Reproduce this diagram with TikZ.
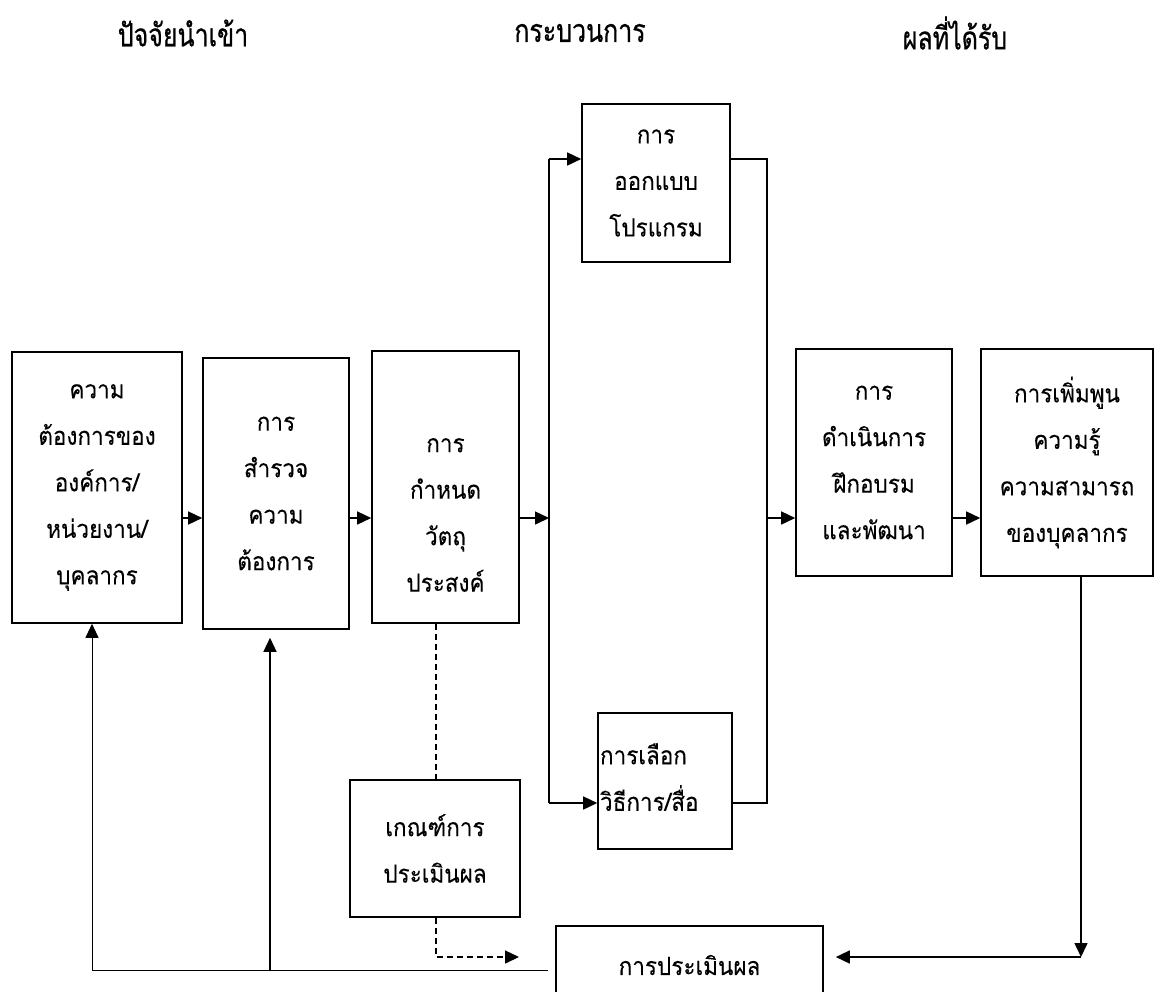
\documentclass[tikz,border=0pt]{standalone}
\usepackage{fontspec}
\newfontfamily\thai[Script=Thai,FakeStretch=0.9,FakeBold=0.15]{Loma}
\newfontfamily\thaihead[Script=Thai,FakeStretch=0.78,FakeBold=0.6]{Loma}
\usetikzlibrary{arrows.meta}
\begin{document}
\begin{tikzpicture}[x=1pt,y=-1pt,
  box/.style={draw,line width=1.6pt,inner sep=0pt,align=center,
    font=\thai\fontsize{25}{46.5}\selectfont},
  head/.style={font=\thaihead\fontsize{32}{34}\selectfont},
  ln/.style={line width=1.5pt},
  arr/.style={line width=1.5pt,-{Triangle[length=14pt,width=13pt]}},
  dsh/.style={line width=1.5pt,dash pattern=on 6pt off 4pt}]
\useasboundingbox (0,0) rectangle (1158,991);
\clip (0,0) rectangle (1158,991);
% headers
\node[head] (h1) at (183,33) {ปัจจัยนำเข้า};
\node[head] (h2) at (580,33) {กระบวนการ};
\node[head] (h3) at (955,33) {ผลที่ได้รับ};
% boxes
\node[box,minimum width=170,minimum height=271] (b1) at (97,487.5)
  {ความ\\ต้องการของ\\องค์การ/\\หน่วยงาน/\\บุคลากร};
\node[box,minimum width=146,minimum height=271] (b2) at (276,493.5)
  {การ\\สำรวจ\\ความ\\ต้องการ};
\node[box,minimum width=147,minimum height=272,
  label={[font=\thai\fontsize{25}{46.5}\selectfont,align=center,yshift=-28pt]center:{การ\\กำหนด\\วัตถุ\\ประสงค์}}] (b3) at (445.5,487) {};
\node[box,minimum width=148,minimum height=158] (b4) at (656,183)
  {การ\\ออกแบบ\\โปรแกรม};
\node[box,minimum width=134,minimum height=136,align=left,text width=130,
  inner xsep=2pt] (b5) at (665,781) {\raisebox{8pt}{การเลือก}\\\raisebox{8pt}{วิธีการ/สื่อ}};
\node[box,minimum width=156,minimum height=227] (b6) at (874,462.5)
  {การ\\ดำเนินการ\\ฝึกอบรม\\และพัฒนา};
\node[box,minimum width=172,minimum height=227] (b7) at (1067,462.5)
  {การเพิ่มพูน\\ความรู้\\ความสามารถ\\ของบุคลากร};
\node[box,minimum width=170,minimum height=137] (crit) at (435,848.5)
  {เกณฑ์การ\\ประเมินผล};
\node[box,minimum width=267,minimum height=78] (eval) at (689.5,965)
  {การประเมินผล};
% helper coordinates
\coordinate (ya) at (0,518);
\coordinate (sL) at (549,518);
\coordinate (sLt) at (549,159);
\coordinate (sLb) at (549,803);
\coordinate (jR) at (767,518);
\coordinate (jRt) at (767,159);
\coordinate (jRb) at (767,803);
\coordinate (dn) at (1081,957);
\coordinate (dx) at (436,957);
\coordinate (dend) at (507,957);
\coordinate (fbR) at (548,970);
\coordinate (fb1) at (92,970);
\coordinate (fb2) at (270,970);
% main flow
\draw[arr] (b1.east |- ya) -- (b2.west |- ya);
\draw[arr] (b2.east |- ya) -- (b3.west |- ya);
\draw[arr] (b3.east |- ya) -- (sL);
\draw[ln] (sLt) -- (sLb);
\draw[arr] (sLt) -- (b4.west |- sLt);
\draw[arr] (sLb) -- (b5.west |- sLb);
\draw[ln] (b4.east |- jRt) -- (jRt) -- (jRb) -- (b5.east |- jRb);
\draw[arr] (jR) -- (b6.west |- jR);
\draw[arr] (b6.east |- ya) -- (b7.west |- ya);
\draw[arr] (b7.south -| dn) -- (dn);
\draw[arr,shorten >=12pt] (dn) -- (eval.east |- dn);
% criteria dashed
\draw[dsh] (b3.south -| dx) -- (crit.north -| dx);
\draw[dsh] (crit.south -| dx) -- (dx) -- (dend);
\draw[arr] ([xshift=-1pt]dend) -- ([xshift=12pt]dend);
% feedback
\draw[line width=1pt] (fbR) -- (fb1);
\draw[arr,line width=1pt] (fb1) -- (b1.south -| fb1);
\draw[arr,shorten >=8pt] (fb2) -- (b2.south -| fb2);
\end{tikzpicture}
\end{document}
